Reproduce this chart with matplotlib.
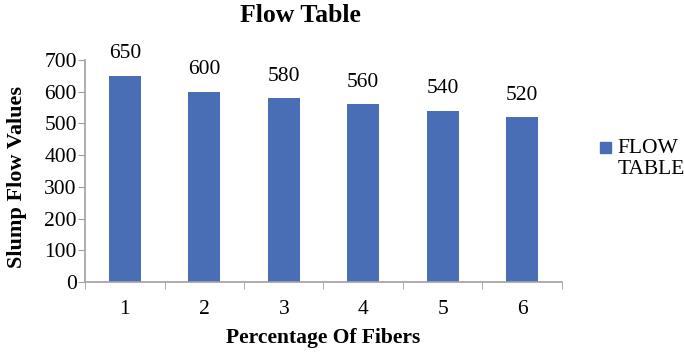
import matplotlib.pyplot as plt
from matplotlib.patches import Rectangle

categories = ['1', '2', '3', '4', '5', '6']
flow_values = [650, 600, 580, 560, 540, 520]
series_name = 'FLOW\nTABLE'
bar_color = '#4a6eb5'

plt.rcParams['font.family'] = ['Liberation Serif', 'DejaVu Serif']

fig = plt.figure(figsize=(6.84, 3.54), dpi=100)
ax = fig.add_axes([0.1243, 0.2034, 0.8216 - 0.1243, 0.8305 - 0.2034])

x = range(len(categories))
ax.bar(x, flow_values, width=0.4, color=bar_color)
for xi, v in zip(x, flow_values):
    ax.annotate(str(v), (xi, v), xytext=(0, 9), textcoords='offset points',
                ha='center', va='bottom', fontsize=15.5)

ax.set_xlim(-0.5, len(categories) - 0.5)
ax.set_ylim(0, 700)
ax.set_yticks(range(0, 701, 100))
ax.set_xticks(list(x))
ax.set_xticklabels(categories)
ax.set_xticks([i - 0.5 for i in range(len(categories) + 1)], minor=True)
ax.tick_params(axis='x', which='major', length=0, pad=13, labelsize=15.5)
ax.tick_params(axis='x', which='minor', length=5, color='#a0a0a0')
ax.tick_params(axis='y', length=5, color='#a0a0a0', labelsize=15.5, pad=1)

for s in ['top', 'right']:
    ax.spines[s].set_visible(False)
for s in ['left', 'bottom']:
    ax.spines[s].set_color('#a0a0a0')
    ax.spines[s].set_linewidth(1.2)

fig.text(300 / 684, 1 - 15 / 354, 'Flow Table', fontsize=18.5, fontweight='bold',
         ha='center', va='center')
ax.set_xlabel('Percentage Of Fibers', fontsize=15.5, fontweight='bold')
ax.xaxis.label.set_va('center')
ax.xaxis.set_label_coords(0.5, (282 - 338) / 222)
ax.set_ylabel('Slump Flow Values', fontsize=16, fontweight='bold')
ax.yaxis.label.set_va('center')
ax.yaxis.set_label_coords((17 - 85) / 477, 0.475)

# legend drawn by hand so the swatch sits beside the first line
ax.add_patch(Rectangle((1.0797, 0.581), 0.0231, 0.0495, transform=ax.transAxes,
                       color=bar_color, clip_on=False))
ax.text(1.117, 0.645, series_name, transform=ax.transAxes, fontsize=15.5,
        ha='left', va='top', linespacing=1.15)

fig.savefig('out.png', dpi=100)
